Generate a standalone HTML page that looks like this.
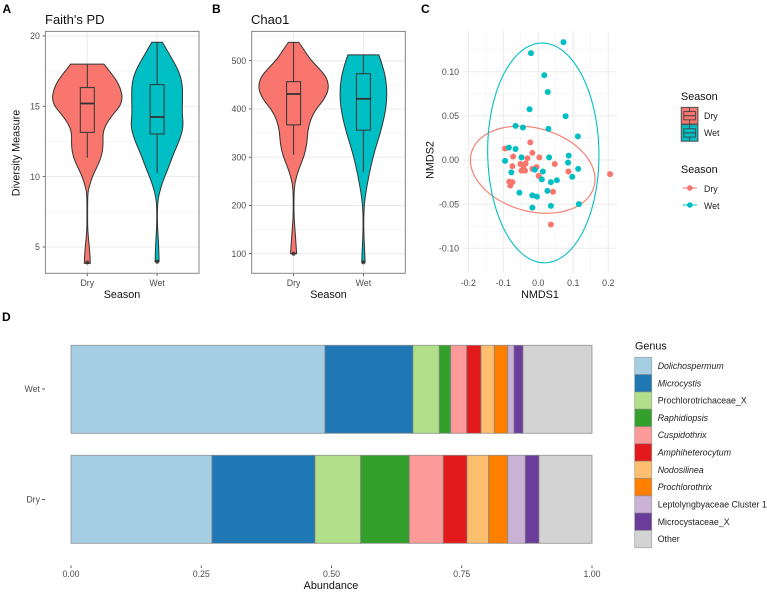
<!DOCTYPE html>
<html lang="en">
<head>
<meta charset="utf-8">
<title>Diversity, ordination and abundance by season</title>
<style>
html,body{margin:0;padding:0;background:#fff;width:767px;height:592px;overflow:hidden}
svg{display:block;font-family:"Liberation Sans",Arial,sans-serif;filter:blur(0.35px)}
.tick{font-size:8.8px;fill:#4d4d4d}
.title{font-size:10.8px;fill:#111}
.plot-title{font-size:13px;fill:#111}
.letter{font-size:12px;font-weight:bold;fill:#000}
.leg{font-size:8.8px;fill:#222}
</style>
</head>
<body>
<svg id="fig" width="767" height="592" viewBox="0 0 767 592" xmlns="http://www.w3.org/2000/svg">
  <rect x="0" y="0" width="767" height="592" fill="#fff"/>
  <text class="letter" x="2.5" y="13">A</text>
  <text class="letter" x="212" y="13">B</text>
  <text class="letter" x="421" y="13">C</text>
  <text class="letter" x="2" y="321">D</text>
  <text class="plot-title" x="45" y="24">Faith's PD</text>
  <text class="plot-title" x="251" y="24">Chao1</text>
  <text class="title" text-anchor="middle" transform="translate(19.5,153) rotate(-90)">Diversity Measure</text>
  <text class="title" text-anchor="middle" x="122" y="298">Season</text>
  <text class="title" text-anchor="middle" x="328.5" y="298">Season</text>
  <text class="title" text-anchor="middle" x="540" y="298">NMDS1</text>
  <text class="title" text-anchor="middle" transform="translate(433.5,160) rotate(-90)">NMDS2</text>
  <text class="title" text-anchor="middle" x="331" y="589">Abundance</text>
  <text class="title" x="681" y="100">Season</text>
  <text class="title" x="681" y="173">Season</text>
  <text class="title" x="635" y="349.5">Genus</text>
  <g id="layer"></g>
</svg>
<script>
// ---------- Season categories ----------
const seasons = ['Dry', 'Wet'];
const seasonColors = ['#F8766D', '#00BFC4'];

// ---------- Faith's PD ----------
const faithTicks = [5, 10, 15, 20];
const faithDryValues = [18.0,17.46,16.87,16.28,15.57,14.98,14.38,13.67,13.08,12.13,11.42,10.71,10.0,9.29,8.82,7.87,6.45,5.73,4.79,3.96,3.84];
const faithDryDensity = [0.47,0.64,0.82,0.94,1,0.92,0.71,0.52,0.44,0.45,0.40,0.28,0.14,0.057,0.014,0.009,0.009,0.028,0.066,0.085,0.085];
const faithWetValues = [19.55,18.77,17.82,17.1,16.4,15.45,14.5,13.55,12.6,11.66,10.7,9.53,8.58,7.87,6.45,5.5,3.96];
const faithWetDensity = [0.15,0.33,0.55,0.67,0.72,0.72,0.71,0.745,0.64,0.47,0.33,0.14,0.038,0.009,0.009,0.038,0.057];
const faithDryBox = [11.35,13.15,15.2,16.33,18.0];
const faithWetBox = [10.28,13.03,14.24,16.54,19.55];
const faithOutliers = [3.9, 3.95];

// ---------- Chao1 ----------
const chaoTicks = [100, 200, 300, 400, 500];
const chaoDryValues = [538,523,502,485,464,441,419,398,378,354,329,302,274,246,219,177,150,122,100];
const chaoDryDensity = [0.15,0.29,0.48,0.71,0.95,1,0.86,0.62,0.48,0.40,0.38,0.30,0.14,0.03,0.01,0.01,0.04,0.067,0.086];
const chaoWetValues = [512,488,461,426,392,350,316,281,246,212,184,143,115,82];
const chaoWetDensity = [0.44,0.55,0.64,0.67,0.62,0.48,0.33,0.21,0.114,0.038,0.01,0.01,0.03,0.048];
const chaoDryBox = [305,367,431,456.5,538];
const chaoWetBox = [269,356,421,473,512];
const chaoOutliers = [100, 82];

// ---------- NMDS ----------
const nmdsXTicks = ['-0.2','-0.1','0.0','0.1','0.2'];
const nmdsYTicks = ['-0.10','-0.05','0.00','0.05','0.10'];
const nmdsDryX = [-0.023,-0.095,-0.072,-0.017,-0.031,0.003,0.047,-0.074,-0.051,-0.036,-0.042,-0.048,-0.038,-0.017,-0.005,0.001,0.086,-0.083,-0.074,-0.08,0.042,0.036,0.205];
const nmdsDryY = [0.020,0.013,0.004,0.008,0.002,0.003,-0.0045,-0.007,-0.0045,-0.004,-0.007,-0.012,-0.012,-0.010,-0.008,-0.018,-0.013,-0.0245,-0.025,-0.029,-0.036,-0.073,-0.016];
const nmdsWetX = [0.072,-0.021,0.017,0.027,-0.025,0.078,-0.065,-0.044,0.029,0.113,-0.084,-0.065,-0.095,-0.048,0.031,0.087,0.085,0.114,0.097,0.053,0.036,0.013,-0.01,0.01,-0.077,-0.054,0.026,-0.017,-0.004,-0.017,0.036,0.116];
const nmdsWetY = [0.1335,0.121,0.096,0.077,0.0575,0.0495,0.0387,0.0368,0.0353,0.0267,0.014,0.0125,-0.001,0.003,0.003,0.005,-0.003,-0.010,-0.019,-0.023,-0.025,-0.013,-0.011,-0.022,-0.014,-0.037,-0.035,-0.040,-0.0415,-0.054,-0.052,-0.050];
// centre x, centre y, radius x, radius y, tilt correlation
const ellipseDry = [-0.016,-0.011,0.178,0.0493,-0.22];
const ellipseWet = [0.0143,0.008,0.159,0.1245,-0.02];

// ---------- Stacked abundance ----------
const genera = ['Dolichospermum','Microcystis','Prochlorotrichaceae_X','Raphidiopsis','Cuspidothrix','Amphiheterocytum','Nodosilinea','Prochlorothrix','Leptolyngbyaceae Cluster 1','Microcystaceae_X','Other'];
const genusItalic = [true,true,false,true,true,true,true,true,false,false,false];
const genusColors = ['#A6CEE3','#1F78B4','#B2DF8A','#33A02C','#FB9A99','#E31A1C','#FDBF6F','#FF7F00','#CAB2D6','#6A3D9A','#D3D3D3'];
const abundanceWet = [0.4875,0.1689,0.0505,0.0219,0.0307,0.0274,0.0256,0.0257,0.0121,0.0173,0.1324];
const abundanceDry = [0.2706,0.1977,0.0877,0.0933,0.0653,0.0455,0.0416,0.0365,0.0338,0.0263,0.1017];
const abundanceTicks = ['0.00','0.25','0.50','0.75','1.00'];

// ---------- helpers ----------
const NS = 'http://www.w3.org/2000/svg';
const layer = document.getElementById('layer');
function mk(tag, attrs, text) {
  const n = document.createElementNS(NS, tag);
  for (const k in attrs) n.setAttribute(k, attrs[k]);
  if (text !== undefined) n.textContent = text;
  layer.appendChild(n);
  return n;
}
function line(name, x1, y1, x2, y2, stroke, w) {
  const el = mk('line', {x1, y1, x2, y2, stroke, 'stroke-width': w});
  
  
  return el;
}
function label(name, x, y, cls, anchor, str) {
  const el = mk('text', {x, y, class: cls, 'text-anchor': anchor}, str);
  
  
  return el;
}

// ---------- violin panels ----------
function violinPath(cx, yScale, vals, dens, maxW) {
  const r = vals.map((v, i) => [cx + dens[i] * maxW, yScale(v)]);
  const l = vals.map((v, i) => [cx - dens[i] * maxW, yScale(v)]).reverse();
  function side(p) {
    let s = 'L' + p[0][0] + ' ' + p[0][1];
    for (let i = 1; i < p.length - 1; i++) {
      const mx = (p[i][0] + p[i + 1][0]) / 2, my = (p[i][1] + p[i + 1][1]) / 2;
      s += 'Q' + p[i][0] + ' ' + p[i][1] + ' ' + mx + ' ' + my;
    }
    return s + 'L' + p[p.length - 1][0] + ' ' + p[p.length - 1][1];
  }
  return 'M' + l[l.length - 1][0] + ' ' + l[l.length - 1][1] + side(r) + side(l) + 'Z';
}
function violinPanel(prefix, left, right, top, bottom, yScale, ticks, series, outliers) {
  const unit = (right - left) / 2.2;
  const catX = i => left + (0.6 + i) * unit;
  ticks.forEach((t, i) => {
    line(prefix + '-grid-major-y', left, yScale(t), right, yScale(t), '#ebebeb', 1);
    if (i < ticks.length - 1) {
      const m = (t + ticks[i + 1]) / 2;
      line(prefix + '-grid-minor-y', left, yScale(m), right, yScale(m), '#f0f0f0', 0.6);
    }
    line(prefix + '-y-tick', left - 2.8, yScale(t), left, yScale(t), '#444', 0.8);
    label(prefix + '-y-tick-label', left - 5.5, yScale(t) + 3.1, 'tick', 'end', String(t));
  });
  const extra = ticks[ticks.length - 1] + (ticks[1] - ticks[0]) / 2;
  if (yScale(extra) > top) line(prefix + '-grid-minor-y', left, yScale(extra), right, yScale(extra), '#f0f0f0', 0.6);
  seasons.forEach((s, i) => {
    line(prefix + '-grid-major-x', catX(i), top, catX(i), bottom, '#ebebeb', 1);
    line(prefix + '-x-tick', catX(i), bottom, catX(i), bottom + 2.8, '#444', 0.8);
    label(prefix + '-x-tick-label', catX(i), 286, 'tick', 'middle', s);
  });
  series.forEach((d, i) => {
    const cx = catX(i);
    const v = mk('path', {d: violinPath(cx, yScale, d.values, d.density, 35.3), fill: seasonColors[i], stroke: '#333', 'stroke-width': 1, 'stroke-linejoin': 'round'});
    
    
    const b = d.box;
    line(prefix + '-whisker-upper', cx, yScale(b[3]), cx, yScale(b[4]), '#333', 1);
    line(prefix + '-whisker-lower', cx, yScale(b[1]), cx, yScale(b[0]), '#333', 1);
    const r = mk('rect', {x: cx - 7, y: yScale(b[3]), width: 14, height: yScale(b[1]) - yScale(b[3]), fill: 'none', stroke: '#333', 'stroke-width': 1});
    
    
    line(prefix + '-median-' + seasons[i].toLowerCase(), cx - 7, yScale(b[2]), cx + 7, yScale(b[2]), '#333', 1.8);
    const o = mk('circle', {cx, cy: yScale(outliers[i]), r: 2, fill: '#333', opacity: 0.85});
    
    
  });
  const frame = mk('rect', {x: left, y: top, width: right - left, height: bottom - top, fill: 'none', stroke: '#858585', 'stroke-width': 1});
  
  
}
const yFaith = v => 106.3 + (15 - v) * 14.07;
const yChao = v => 253.7 - (v - 100) * 0.4825;
violinPanel('faiths', 45.4, 199, 31.4, 273.3, yFaith, faithTicks, [
  {values: faithDryValues, density: faithDryDensity, box: faithDryBox},
  {values: faithWetValues, density: faithWetDensity, box: faithWetBox}
], faithOutliers);
violinPanel('chao1', 251.7, 405.3, 31.4, 273.3, yChao, chaoTicks, [
  {values: chaoDryValues, density: chaoDryDensity, box: chaoDryBox},
  {values: chaoWetValues, density: chaoWetDensity, box: chaoWetBox}
], chaoOutliers);

// ---------- NMDS panel ----------
const nx = v => 538.3 + v * 350;
const ny = v => 160 - v * 883;
const nLeft = 463, nRight = 617, nTop = 31, nBottom = 272.5;
nmdsXTicks.forEach((t, i) => {
  const v = parseFloat(t);
  line('nmds-grid-major-x', nx(v), nTop, nx(v), nBottom, '#ebebeb', 1);
  if (i < nmdsXTicks.length - 1) line('nmds-grid-minor-x', nx(v + 0.05), nTop, nx(v + 0.05), nBottom, '#f0f0f0', 0.6);
  label('nmds-x-tick-label', nx(v), 286, 'tick', 'middle', t);
});
nmdsYTicks.forEach((t, i) => {
  const v = parseFloat(t);
  line('nmds-grid-major-y', nLeft, ny(v), nRight, ny(v), '#ebebeb', 1);
  if (i < nmdsYTicks.length - 1) line('nmds-grid-minor-y', nLeft, ny(v + 0.025), nRight, ny(v + 0.025), '#f0f0f0', 0.6);
  label('nmds-y-tick-label', 459, ny(v) + 3.1, 'tick', 'end', t);
});
line('nmds-grid-minor-y', nLeft, ny(0.125), nRight, ny(0.125), '#f0f0f0', 0.6);
function ellipseD(e) {
  let d = '';
  const phi = Math.asin(e[4]);
  for (let k = 0; k <= 96; k++) {
    const t = k / 96 * 2 * Math.PI;
    const x = e[0] + e[2] * Math.cos(t);
    const y = e[1] + e[3] * (Math.sin(t) * Math.cos(phi) + Math.cos(t) * Math.sin(phi));
    d += (k ? 'L' : 'M') + nx(x).toFixed(2) + ' ' + ny(y).toFixed(2);
  }
  return d + 'Z';
}
const ellipseDryEl = mk('path', {d: ellipseD(ellipseDry), fill: 'none', stroke: seasonColors[0], 'stroke-width': 1.1});


const ellipseWetEl = mk('path', {d: ellipseD(ellipseWet), fill: 'none', stroke: seasonColors[1], 'stroke-width': 1.1});


nmdsDryX.forEach((v, i) => {
  const p = mk('circle', {cx: nx(v), cy: ny(nmdsDryY[i]), r: 3, fill: seasonColors[0]});
  
  
});
nmdsWetX.forEach((v, i) => {
  const p = mk('circle', {cx: nx(v), cy: ny(nmdsWetY[i]), r: 3, fill: seasonColors[1]});
  
  
});

// ---------- Season legends ----------
seasons.forEach((s, i) => {
  const ky = 107.4 + i * 17.2, kx = 681.3, ks = 16.6;
  const key = mk('rect', {x: kx, y: ky, width: ks, height: ks, fill: seasonColors[i], stroke: '#555', 'stroke-width': 1.1});
  
  
  const inner = mk('rect', {x: kx + 2.5, y: ky + ks * 0.25, width: ks - 5, height: ks * 0.5, fill: 'none', stroke: '#444', 'stroke-width': 0.9});
  
  
  line('legend-box-key-median', kx + 2.5, ky + ks / 2, kx + ks - 2.5, ky + ks / 2, '#444', 1.1);
  line('legend-box-key-whisker', kx + ks / 2, ky, kx + ks / 2, ky + ks * 0.25, '#444', 0.9);
  line('legend-box-key-whisker', kx + ks / 2, ky + ks * 0.75, kx + ks / 2, ky + ks, '#444', 0.9);
  label('legend-box-label', 704, 119 + i * 17, 'leg', 'start', s);
  const ly = 188 + i * 17;
  line('legend-point-line', 682.7, ly, 697, ly, seasonColors[i], 1);
  const dot = mk('circle', {cx: 689.8, cy: ly, r: 2.8, fill: seasonColors[i]});
  
  
  label('legend-point-label', 704, ly + 4, 'leg', 'start', s);
});

// ---------- Stacked bars ----------
const ax = v => 71 + v * 521;
function stackedBar(name, vals, top, h) {
  let c = 0;
  vals.forEach((v, i) => {
    const seg = mk('rect', {x: ax(c), y: top, width: v * 521, height: h, fill: genusColors[i], stroke: '#808080', 'stroke-opacity': 0.75, 'stroke-width': 0.9});
    
    
    c += v;
  });
}
stackedBar('wet-bar', abundanceWet, 345.3, 88);
stackedBar('dry-bar', abundanceDry, 455.3, 88);
[['Wet', 389], ['Dry', 499.5]].forEach(d => {
  label('abundance-y-tick-label', 40, d[1] + 3.1, 'tick', 'end', d[0]);
  line('abundance-y-tick', 42, d[1], 45, d[1], '#333', 0.8);
});
abundanceTicks.forEach(t => {
  const v = parseFloat(t);
  line('abundance-x-tick', ax(v), 565.5, ax(v), 568, '#333', 0.8);
  label('abundance-x-tick-label', ax(v), 577, 'tick', 'middle', t);
});

// ---------- Genus legend ----------
genera.forEach((g, i) => {
  const ky = 357.3 + i * 17.31;
  const key = mk('rect', {x: 634.7, y: ky, width: 17, height: 17.31, fill: genusColors[i], stroke: '#808080', 'stroke-opacity': 0.6, 'stroke-width': 0.8});
  
  
  const t = label('legend-genus-label', 657.7, ky + 11.7, 'leg', 'start', g);
  if (genusItalic[i]) t.setAttribute('font-style', 'italic');
});
</script>
</body>
</html>
